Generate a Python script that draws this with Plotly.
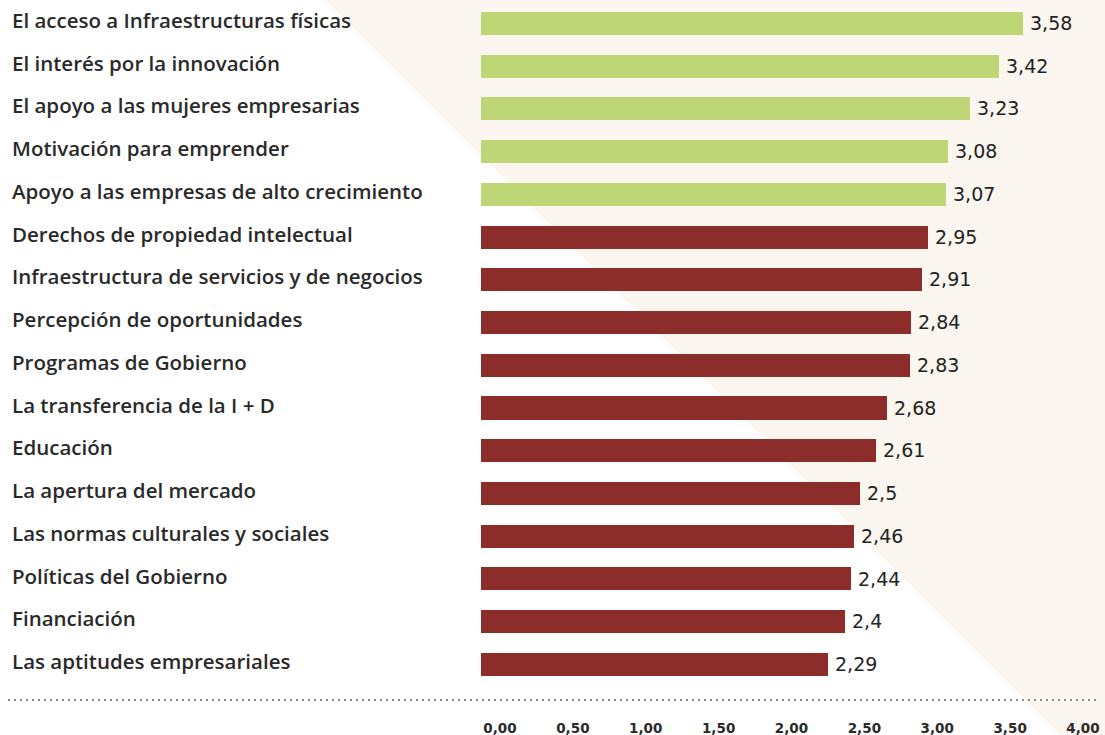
import plotly.graph_objects as go

# Indicadores y su valoración media (escala 0-4)
categorias = [
    "El acceso a Infraestructuras físicas",
    "El interés por la innovación",
    "El apoyo a las mujeres empresarias",
    "Motivación para emprender",
    "Apoyo a las empresas de alto crecimiento",
    "Derechos de propiedad intelectual",
    "Infraestructura de servicios y de negocios",
    "Percepción de oportunidades",
    "Programas de Gobierno",
    "La transferencia de la I + D",
    "Educación",
    "La apertura del mercado",
    "Las normas culturales y sociales",
    "Políticas del Gobierno",
    "Financiación",
    "Las aptitudes empresariales",
]
valores = [3.58, 3.42, 3.23, 3.08, 3.07, 2.95, 2.91, 2.84, 2.83, 2.68, 2.61, 2.5, 2.46, 2.44, 2.4, 2.29]
etiquetas_valor = ["3,58", "3,42", "3,23", "3,08", "3,07", "2,95", "2,91", "2,84", "2,83",
                   "2,68", "2,61", "2,5", "2,46", "2,44", "2,4", "2,29"]
ticks_eje = [0, 0.5, 1, 1.5, 2, 2.5, 3, 3.5, 4]
ticks_texto = ["0,00", "0,50", "1,00", "1,50", "2,00", "2,50", "3,00", "3,50", "4,00"]
umbral_destacado = 3.0

VERDE = "#bfd677"
GRANATE = "#8c2d2b"
BEIGE = "#fbf6ef"
TEXTO = "#2a2a2a"

W, H = 1105, 735
colores = [VERDE if v > umbral_destacado else GRANATE for v in valores]

fig = go.Figure()
fig.add_trace(go.Bar(
    x=valores, y=categorias, orientation="h",
    marker=dict(color=colores, line=dict(width=0)),
    width=0.54, hoverinfo="skip", showlegend=False,
))
# Eje auxiliar para la escala inferior
fig.add_trace(go.Scatter(
    x=[ticks_eje[0], ticks_eje[-1]], y=[0, 0], xaxis="x2", yaxis="y2",
    mode="markers", marker=dict(opacity=0), hoverinfo="skip", showlegend=False,
))

# Nombres de los indicadores, alineados a la izquierda
for c in categorias:
    fig.add_annotation(
        x=10 / W, xref="paper", xanchor="left", y=c, yref="y", yshift=3,
        text=c, showarrow=False,
        font=dict(family="Open Sans", size=20.5, color=TEXTO, weight=600),
    )

# Valor al final de cada barra
for c, v, t in zip(categorias, valores, etiquetas_valor):
    fig.add_annotation(
        x=v, xref="x", y=c, yref="y", xanchor="left", xshift=5, yshift=0,
        text=t, showarrow=False,
        font=dict(family="DejaVu Sans", size=19, color="#222222"),
    )

# Fondo diagonal beige
fig.add_shape(
    type="path", xref="paper", yref="paper", layer="below",
    path=f"M {325 / W} 1 L 1 1 L 1 0 L {1060 / W} 0 Z",
    fillcolor=BEIGE, line=dict(width=0),
)
# Línea punteada sobre la escala
fig.add_shape(
    type="line", xref="paper", yref="paper",
    x0=8 / W, x1=1100 / W, y0=1 - 700 / H, y1=1 - 700 / H,
    line=dict(color="#8a8a8a", width=2, dash="2px,4px"),
)

fig.update_layout(
    width=W, height=H,
    margin=dict(l=0, r=0, t=0, b=0, autoexpand=False),
    paper_bgcolor="white", plot_bgcolor="rgba(0,0,0,0)",
    bargap=0,
    xaxis=dict(domain=[481 / W, (481 + 151.5 * 4) / W], range=[0, 4],
               showgrid=False, zeroline=False, showticklabels=False, showline=False),
    yaxis=dict(domain=[1 - 685.4 / H, 1 - 1.65 / H], type="category",
               categoryorder="array", categoryarray=categorias,
               range=[len(categorias) - 0.5, -0.5],
               showgrid=False, zeroline=False, showticklabels=False, showline=False),
    xaxis2=dict(domain=[500 / W, 1083 / W], range=[0, 4], anchor="y2",
                tickvals=ticks_eje, ticktext=ticks_texto, ticks="",
                tickfont=dict(family="DejaVu Sans", size=13.5, color=TEXTO, weight="bold"),
                showgrid=False, zeroline=False, showline=False),
    yaxis2=dict(domain=[1 - 718 / H, 1 - 717 / H], range=[-1, 1], anchor="x2",
                showgrid=False, zeroline=False, showticklabels=False, showline=False),
)

fig.write_html("out.html")
